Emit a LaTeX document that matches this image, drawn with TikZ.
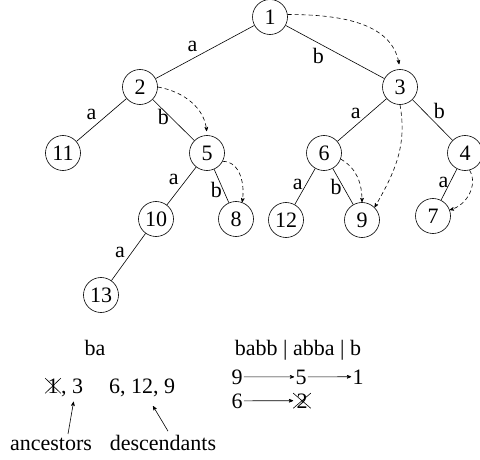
\documentclass[tikz,border=0pt]{standalone}
\usepackage{fontspec}
\setmainfont{Liberation Serif}
\usetikzlibrary{arrows, positioning, shapes.misc}

\begin{document}
\begin{tikzpicture} [
						x=1pt, y=-1pt,
						>=stealth',
						line width=0.6pt,
						every node/.style={font=\fontsize{22}{26}\selectfont},
						vtx/.style={circle, draw, minimum size=35pt, inner sep=0pt},
						lbl/.style={inner sep=1pt},
						jump/.style={->, dash pattern=on 4pt off 3pt},
						struck/.style={cross out, draw, inner xsep=2pt, inner ysep=0pt}
					]

\useasboundingbox (0,0) rectangle (480,460);

% the tree
\node (1) [vtx] at (270,17) {1};
\node (2) [vtx] at (140,87) {2};
\node (3) [vtx] at (400,87) {3};
\node (11) [vtx] at (63,153) {11};
\node (5) [vtx] at (207,153) {5};
\node (6) [vtx] at (324,153) {6};
\node (4) [vtx] at (465,153) {4};
\node (10) [vtx] at (156,219) {10};
\node (8) [vtx] at (236,219) {8};
\node (12) [vtx] at (286,220) {12};
\node (9) [vtx] at (362,220) {9};
\node (7) [vtx] at (433,216) {7};
\node (13) [vtx] at (101,295) {13};

\path
	(1) edge node[lbl, pos=.55, above left=2pt] {a} (2)
	(1) edge node[lbl, pos=.4, below left] {b} (3)
	(2) edge node[lbl, pos=.55, above left=2pt] {a} (11)
	(2) edge node[lbl, pos=.42, left] {b} (5)
	(3) edge node[lbl, pos=.5, above left] {a} (6)
	(3) edge node[lbl, pos=.5, above right] {b} (4)
	(5) edge node[lbl, pos=.53, above left=1pt] {a} (10)
	(5) edge node[lbl, pos=.62, left] {b} (8)
	(6) edge node[lbl, pos=.45, left=2pt] {a} (12)
	(6) edge node[lbl, pos=.5, left] {b} (9)
	(4) edge node[lbl, pos=.45, left] {a} (7)
	(10) edge node[lbl, pos=.55, above left=1pt] {a} (13);

% suffix links
\draw[jump, shorten >=5pt] (1.8) to[out=0, in=100] (3.north);
\draw[jump, shorten >=4pt] (2.east) to[out=-10, in=95] (5.north);
\draw[jump] (5.-28) to[out=0, in=80] (8.70);
\draw[jump] (3.south) to[out=-80, in=60] (9.45);
\draw[jump] (6.-20) to[out=-30, in=90] (9.north);
\draw[jump] (4.-75) to[out=-60, in=15] (7.20);

% query ba
\node (ba) [anchor=base] at (95,355) {ba};
\node (x1) [struck, anchor=base] at (53,393) {1};
\node (r3) [anchor=base west, inner sep=0pt] at (x1.base east) {, 3};
\node (d6) [anchor=base] at (142,393) {6, 12, 9};
\node (anc) [anchor=base] at (51,450) {ancestors};
\node (desc) [anchor=base] at (163,450) {descendants};
\draw[->] ([xshift=17pt]anc.north) -- ([xshift=1.5pt, yshift=-5pt]r3.south);
\draw[->] ([xshift=5pt]desc.north) -- ([xshift=11pt, yshift=-6pt]d6.south);

% query babb | abba | b
\node (bq) [anchor=base] at (298,355) {babb | abba | b};
\node (n9) [anchor=base, inner sep=1pt] at (237,384) {9};
\node (n5) [anchor=base, inner sep=1pt] at (301,384) {5};
\node (n1) [anchor=base, inner sep=1pt] at (358,384) {1};
\node (n6) [anchor=base, inner sep=1pt] at (237,408) {6};
\node (n2) [struck, anchor=base, inner xsep=3pt] at (302,408) {2};
\draw[->] (n9) -- (n5);
\draw[->] (n5) -- (n1);
\draw[->] (n6) -- (n2);
\end{tikzpicture}
\end{document}
